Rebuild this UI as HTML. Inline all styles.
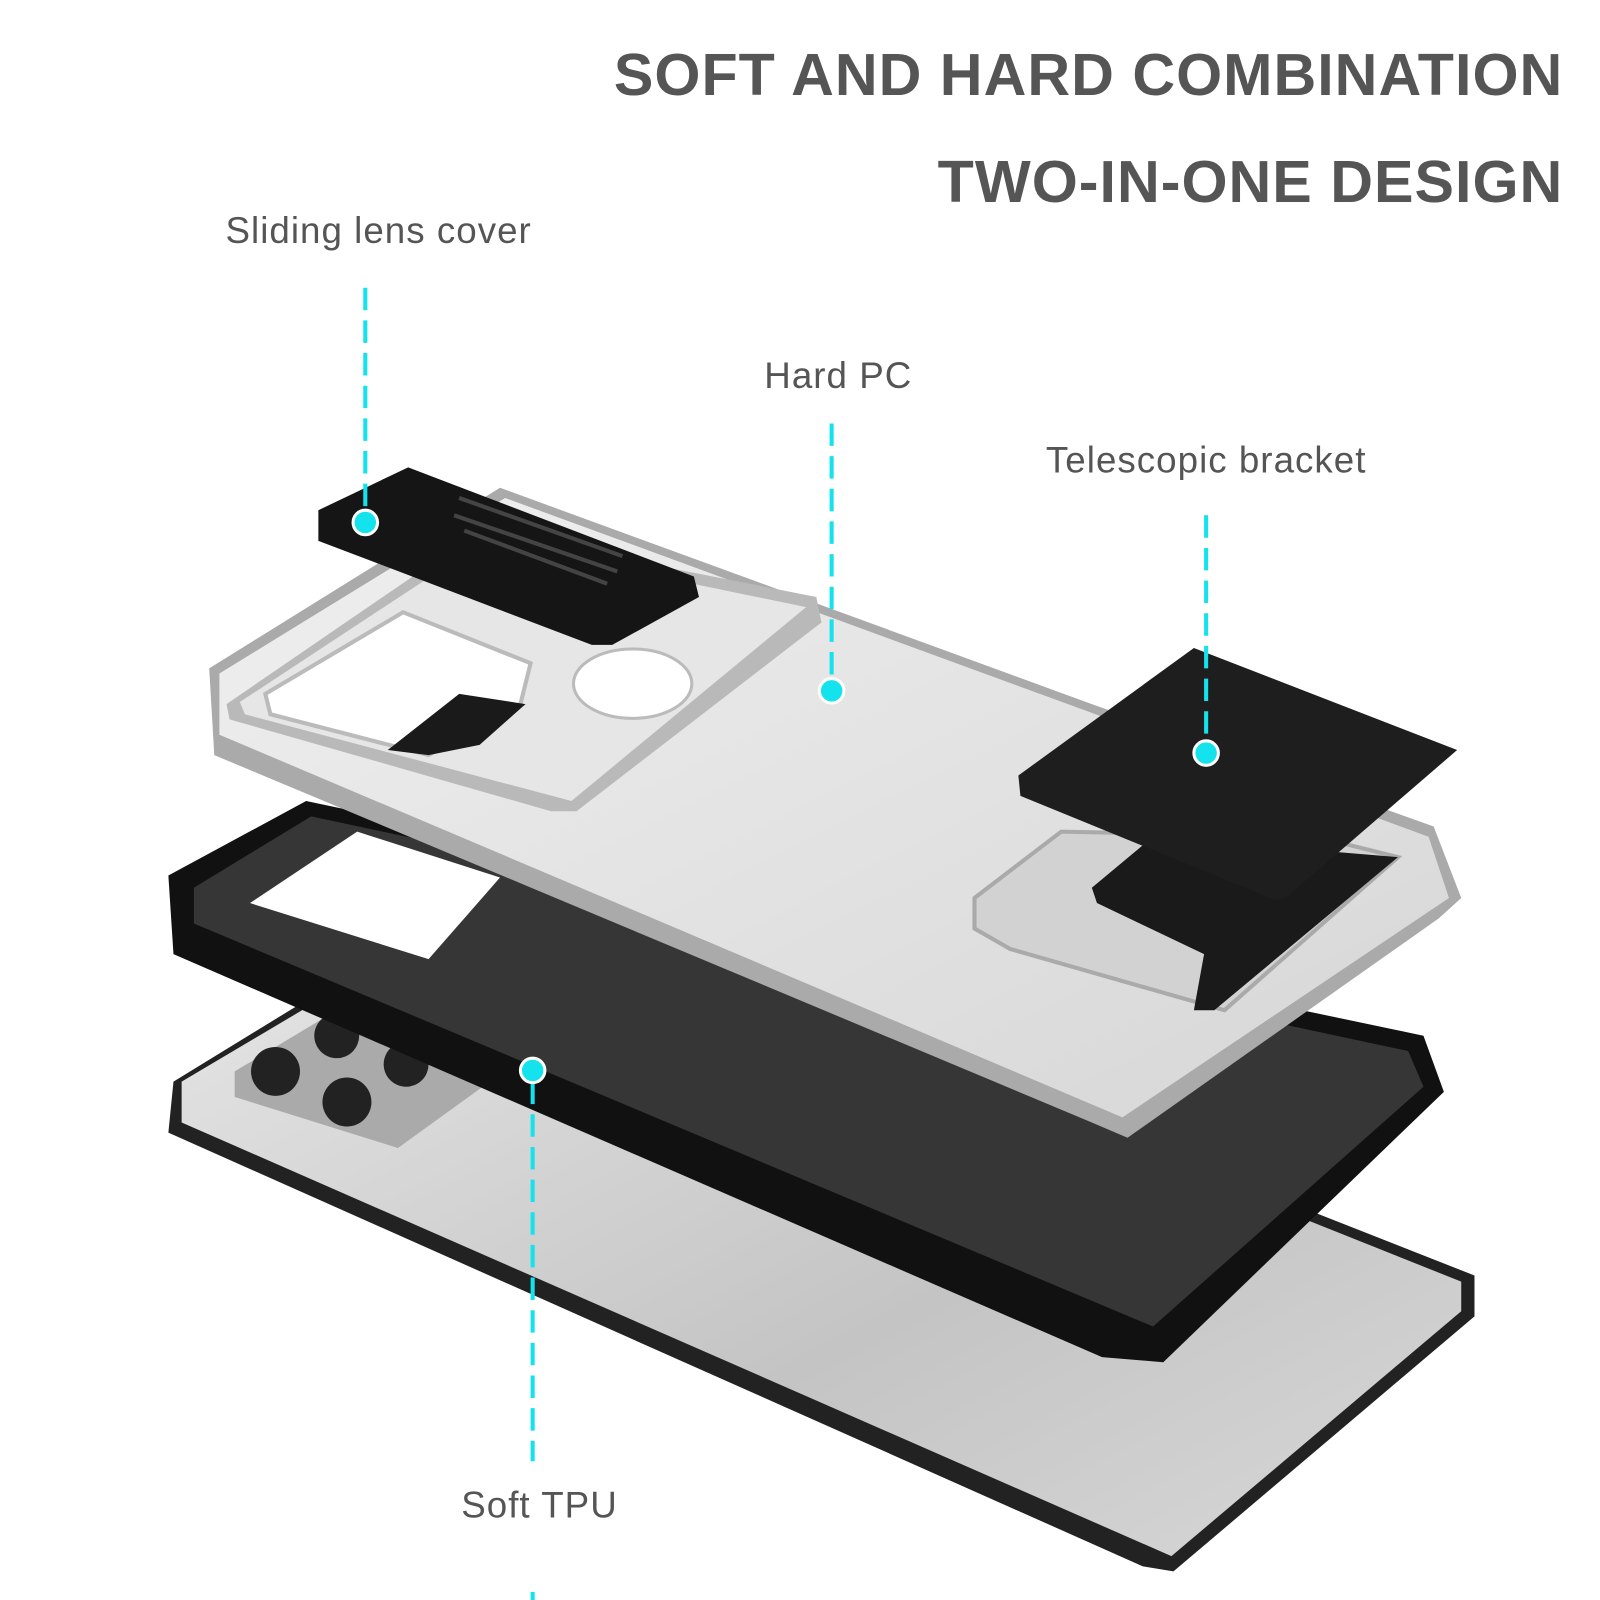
<!DOCTYPE html>
<html><head><meta charset="utf-8"><style>
html,body{margin:0;padding:0;background:#fff;}
body{width:1600px;height:1600px;position:relative;overflow:hidden;font-family:"Liberation Sans",sans-serif;}
#w{position:absolute;left:0;top:0;width:1568px;height:1568px;transform:scale(1.020408);transform-origin:0 0;}
.t{position:absolute;color:#555;white-space:nowrap;}
.h{font-weight:bold;font-size:58px;right:36px;letter-spacing:1px;}
.l{font-size:36px;letter-spacing:1px;}
svg{position:absolute;left:0;top:0;}
</style></head><body><div id="w">
<svg width="1568" height="1568" viewBox="0 0 1568 1568">
<defs>
<linearGradient id="ph" x1="0" y1="0" x2="1" y2="1"><stop offset="0" stop-color="#e8e8e8"/><stop offset="0.6" stop-color="#c4c4c4"/><stop offset="1" stop-color="#d8d8d8"/></linearGradient>
<linearGradient id="pc" x1="0" y1="0" x2="1" y2="1"><stop offset="0" stop-color="#f0f0f0"/><stop offset="1" stop-color="#d6d6d6"/></linearGradient>
</defs>
<polygon points="170,1060 480,870 1445,1250 1445,1290 1150,1540 1120,1535 165,1110" fill="#222"/>
<polygon points="178,1060 485,878 1432,1256 1432,1285 1148,1525 178,1100" fill="url(#ph)"/>
<polygon points="230,1050 330,990 480,1060 390,1125 230,1075" fill="#aaa"/>
<circle cx="270" cy="1050" r="24" fill="#222"/><circle cx="340" cy="1080" r="24" fill="#222"/>
<circle cx="330" cy="1015" r="22" fill="#222"/><circle cx="398" cy="1043" r="22" fill="#222"/>
<polygon points="165,858 300,785 1395,1015 1415,1070 1140,1335 1080,1330 170,935" fill="#111"/>
<polygon points="190,870 305,800 1380,1030 1395,1065 1130,1300 190,905" fill="#363636"/>
<polygon points="245,885 350,815 490,860 420,940" fill="#fff"/>
<polygon points="205,655 490,478 1070,690 1405,810 1432,880 1410,900 1105,1115 1070,1100 210,740" fill="#aaa"/>
<polygon points="215,660 495,488 1060,695 1400,820 1420,880 1100,1095 215,720" fill="url(#pc)"/>
<polygon points="222,690 470,520 800,585 805,610 565,795 540,795 225,705" fill="#b9b9b9"/>
<polygon points="235,688 475,530 790,595 560,785 240,700" fill="#e6e6e6"/>
<polygon points="260,680 395,600 520,650 510,690 420,740 265,700" fill="#fff" stroke="#bbb" stroke-width="4"/>
<polygon points="380,735 450,680 515,690 470,730 420,740" fill="#1a1a1a"/>
<ellipse cx="620" cy="670" rx="58" ry="34" fill="#fff" stroke="#bbb" stroke-width="3"/>
<polygon points="312,500 400,458 680,565 685,585 600,632 580,632 312,530" fill="#151515"/>
<line x1="450" y1="488" x2="610" y2="545" stroke="#444" stroke-width="4"/>
<line x1="445" y1="505" x2="605" y2="560" stroke="#444" stroke-width="4"/>
<line x1="455" y1="520" x2="595" y2="572" stroke="#444" stroke-width="4"/>
<polygon points="955,880 1040,815 1290,820 1370,840 1200,990 990,930 955,910" fill="#d2d2d2" stroke="#aaa" stroke-width="4"/>
<polygon points="1070,870 1130,820 1370,840 1190,990 1170,990 1180,935 1075,885" fill="#1a1a1a"/>
<polygon points="998,760 1170,635 1428,735 1260,880 1250,882 1000,780" fill="#1e1e1e"/>
<g stroke="#14e3ee" stroke-width="4" stroke-dasharray="22,10">
<line x1="358" y1="282" x2="358" y2="500"/>
<line x1="815" y1="415" x2="815" y2="668"/>
<line x1="1182" y1="505" x2="1182" y2="728"/>
<line x1="522" y1="1060" x2="522" y2="1432"/>
<line x1="522" y1="1560" x2="522" y2="1600"/>
</g>
<g fill="#14e3ee" stroke="#fff" stroke-width="3">
<circle cx="358" cy="512" r="12"/><circle cx="815" cy="677" r="12"/>
<circle cx="1182" cy="738" r="12"/><circle cx="522" cy="1049" r="12"/>
</g>
</svg>
<div class="t h" style="top:40px;">SOFT AND HARD COMBINATION</div>
<div class="t h" style="top:145px;">TWO-IN-ONE DESIGN</div>
<div class="t l" style="left:221px;top:205px;">Sliding lens cover</div>
<div class="t l" style="left:749px;top:347px;">Hard PC</div>
<div class="t l" style="left:1025px;top:430px;">Telescopic bracket</div>
<div class="t l" style="left:452px;top:1454px;">Soft TPU</div>
</div></body></html>
